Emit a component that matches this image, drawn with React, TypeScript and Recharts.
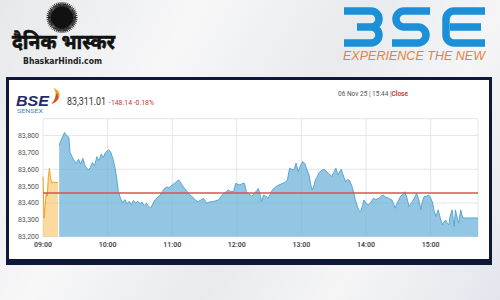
import React from 'react';
import { ComposedChart, Area, Line, XAxis, YAxis, CartesianGrid } from 'recharts';

// minutes after 09:00
const PREV_CLOSE = 83459.15;

const preOpenTimes = [0, 1, 3, 4, 5, 6, 7, 8, 10, 12, 14];
const preOpenValues = [83556, 83310, 83460, 83440, 83560, 83605, 83550, 83520, 83525, 83522, 83520];

const sessionTimes = [
  15, 16, 18, 20, 22, 24, 25, 27, 29, 31,
  33, 35, 37, 39, 42, 44, 46, 48, 50, 52,
  54, 56, 58, 61, 63, 65, 67, 69, 70, 72,
  74, 76, 78, 80, 82, 84, 86, 88, 90, 92,
  94, 96, 98, 100, 102, 104, 106, 109, 111, 113,
  115, 117, 120, 122, 124, 126, 128, 129, 131, 134,
  136, 138, 140, 142, 144, 146, 149, 151, 152, 154,
  157, 160, 163, 165, 168, 170, 172, 174, 177, 179,
  181, 183, 185, 187, 189, 191, 194, 196, 199, 200,
  202, 203, 205, 207, 209, 211, 213, 215, 217, 219,
  221, 223, 225, 227, 229, 231, 233, 235, 237, 239,
  241, 243, 245, 247, 249, 250, 252, 253, 255, 256,
  258, 261, 263, 265, 267, 268, 270, 272, 274, 276,
  277, 279, 281, 283, 285, 287, 289, 290, 292, 293,
  295, 297, 298, 300, 302, 304, 307, 309, 312, 314,
  316, 318, 321, 323, 324, 326, 327, 329, 332, 334,
  336, 338, 340, 341, 343, 345, 347, 349, 351, 352,
  354, 356, 358, 360, 362, 363, 365, 366, 367, 369,
  371, 372, 374, 375, 377, 378, 380, 381, 382, 383,
  384, 386, 387, 388, 389, 390, 404,
];

const sessionValues = [
  83740, 83760, 83790, 83818, 83800, 83790, 83700, 83675, 83650, 83636,
  83660, 83630, 83665, 83620, 83596, 83610, 83640, 83620, 83675, 83650,
  83690, 83670, 83700, 83715, 83700, 83660, 83606, 83520, 83467, 83428,
  83400, 83420, 83395, 83410, 83390, 83415, 83400, 83410, 83395, 83405,
  83385, 83398, 83380, 83370, 83395, 83418, 83430, 83448, 83470, 83487,
  83495, 83490, 83507, 83515, 83527, 83537, 83520, 83507, 83490, 83467,
  83450, 83440, 83428, 83415, 83408, 83415, 83428, 83410, 83398, 83405,
  83408, 83412, 83418, 83435, 83457, 83465, 83477, 83470, 83467, 83517,
  83510, 83507, 83515, 83517, 83467, 83455, 83440, 83455, 83477, 83487,
  83440, 83408, 83448, 83440, 83428, 83450, 83477, 83490, 83500, 83507,
  83512, 83517, 83525, 83537, 83606, 83600, 83596, 83636, 83586, 83620,
  83646, 83636, 83600, 83567, 83500, 83477, 83510, 83537, 83560, 83576,
  83590, 83600, 83590, 83576, 83565, 83557, 83580, 83606, 83567, 83590,
  83600, 83560, 83527, 83540, 83530, 83497, 83450, 83420, 83380, 83359,
  83349, 83390, 83418, 83400, 83388, 83400, 83428, 83420, 83428, 83440,
  83448, 83435, 83428, 83420, 83418, 83390, 83369, 83400, 83438, 83450,
  83467, 83430, 83378, 83390, 83408, 83430, 83457, 83420, 83359, 83400,
  83438, 83440, 83448, 83430, 83398, 83360, 83319, 83340, 83359, 83310,
  83270, 83285, 83299, 83285, 83270, 83320, 83359, 83300, 83260, 83359,
  83330, 83280, 83320, 83359, 83330, 83311, 83311,
];

const hourTicks = [0, 60, 120, 180, 240, 300, 360];
const priceTicks = [83200, 83300, 83400, 83500, 83600, 83700, 83800, 83900];

const allTimes = Array.from(new Set([...preOpenTimes, ...sessionTimes])).sort((a, b) => a - b);
const rows = allTimes.map((t) => {
  const pi = preOpenTimes.indexOf(t);
  const si = sessionTimes.indexOf(t);
  return {
    t,
    pre: pi >= 0 ? preOpenValues[pi] : null,
    val: si >= 0 ? sessionValues[si] : null,
    close: PREV_CLOSE,
  };
});

const fmtTime = (t: number) =>
  `${String(9 + Math.floor(t / 60)).padStart(2, '0')}:${String(t % 60).padStart(2, '0')}`;
const fmtPrice = (v: number) => (v === 83900 ? '' : v.toLocaleString('en-US'));

const rays = Array.from({ length: 96 }, (_, i) => (i / 96) * Math.PI * 2);

export default function App() {
  return (
    <div
      style={{
        position: 'absolute',
        left: 0,
        top: 0,
        width: 500,
        height: 300,
        overflow: 'hidden',
        background: 'linear-gradient(120deg, #e6e8eb 0%, #f7f7f8 30%, #e8eaed 55%, #f5f5f6 75%, #e2e6ec 100%)',
        fontFamily: 'Roboto, sans-serif',
      }}
    >
      <div
        style={{
          position: 'absolute',
          left: 6,
          top: 77,
          width: 486,
          height: 188,
          boxSizing: 'border-box',
          border: '3px solid #0e1838',
          borderBottomWidth: 6,
          background: '#ffffff',
        }}
      />
      <div style={{ position: 'absolute', left: 0, top: 0 }}>
        <ComposedChart
          width={500}
          height={300}
          data={rows}
          margin={{ top: 118.7, right: 22, bottom: 43.3, left: 8 }}
        >
          <CartesianGrid stroke="#e6e6e6" strokeWidth={1} />
          <XAxis
            dataKey="t"
            type="number"
            domain={[0, 404]}
            ticks={hourTicks}
            tickFormatter={fmtTime}
            axisLine={false}
            tickLine={false}
            tickSize={0}
            tickMargin={5}
            height={20}
            tick={{ fontSize: 7, fill: '#444', fontWeight: 600 }}
          />
          <YAxis
            type="number"
            domain={[83200, 83900]}
            ticks={priceTicks}
            tickFormatter={fmtPrice}
            axisLine={false}
            tickLine={false}
            tickSize={0}
            tickMargin={4}
            width={35}
            tick={{ fontSize: 7, fill: '#555' }}
          />
          <Line
            dataKey="close"
            stroke="#d9534f"
            strokeWidth={1.3}
            dot={false}
            isAnimationActive={false}
          />
          <Area
            dataKey="pre"
            stroke="#f0a020"
            strokeWidth={1}
            fill="#f9b53f"
            fillOpacity={0.5}
            dot={false}
            isAnimationActive={false}
          />
          <Area
            dataKey="val"
            stroke="#5aa6d0"
            strokeWidth={1}
            fill="#6fb3d9"
            fillOpacity={0.75}
            dot={false}
            isAnimationActive={false}
          />
        </ComposedChart>
      </div>
      <svg width={500} height={300} style={{ position: 'absolute', left: 0, top: 0, pointerEvents: 'none' }}>
        {/* Dainik Bhaskar logo */}
        {rays.map((a, i) => (
          <line
            key={i}
            x1={62 + Math.cos(a) * 9}
            y1={17.5 + Math.sin(a) * 9}
            x2={62 + Math.cos(a) * (i % 2 ? 14 : 15.5)}
            y2={17.5 + Math.sin(a) * (i % 2 ? 14 : 15.5)}
            stroke="#111"
            strokeWidth={0.9}
          />
        ))}
        <circle cx={62} cy={17.5} r={11} fill="#111" />
        <text
          x={12}
          y={49}
          fontSize={20}
          fontWeight={700}
          fill="#111"
          stroke="#111"
          strokeWidth={0.6}
          textLength={103}
          lengthAdjust="spacingAndGlyphs"
          fontFamily="'Noto Sans Devanagari', 'Lohit Devanagari', 'Noto Sans', sans-serif"
        >
          दैनिक भास्कर
        </text>
        <text
          x={23}
          y={63.5}
          fontSize={8.5}
          fontWeight={700}
          fill="#222"
          textLength={79}
          lengthAdjust="spacingAndGlyphs"
          fontFamily="'DejaVu Sans Condensed', 'Roboto', sans-serif"
        >
          BhaskarHindi.com
        </text>

        {/* BSE logo */}
        <g fill="none" stroke="#1b8fd8" strokeWidth={7.5}>
          <path d="M344 11 H371 A8 8 0 0 1 371 27 H357 M371 27 A8 8 0 0 1 371 43 H344" />
          <path d="M430 11 H404 A8 8 0 0 0 404 27 H418 A8 8 0 0 1 418 43 H392" />
          <path d="M485 11 H454 A8 8 0 0 0 446 19 V35 A8 8 0 0 0 454 43 H485 M450 27 H481" />
        </g>
        <text
          x={343}
          y={59.5}
          fontSize={12}
          fontStyle="italic"
          fill="#e5823f"
          textLength={142}
          lengthAdjust="spacingAndGlyphs"
          fontFamily="'Liberation Sans', Arial, sans-serif"
        >
          EXPERIENCE THE NEW
        </text>

        {/* chart header */}
        <text x={16} y={105.5} fontSize={14} fontWeight={700} fontStyle="italic" fill="#1f2d6b" fontFamily="'Liberation Sans', Arial, sans-serif" textLength={33} lengthAdjust="spacingAndGlyphs">
          BSE
        </text>
        <path d="M54 88 C62 92 62 100 51 104 C56 99 57 94 54 88 Z" fill="#f39c12" />
        <path d="M56 93 C60 96 59 101 52 104 C55 100 56 97 56 93 Z" fill="#e0452b" />
        <text x={17} y={113} fontSize={6} fill="#3e87b9" textLength={26} lengthAdjust="spacingAndGlyphs">
          SENSEX
        </text>
        <text x={67} y={105} fontSize={10} fill="#333" textLength={39} lengthAdjust="spacingAndGlyphs">
          83,311.01
        </text>
        <text x={109} y={104.5} fontSize={7} fill="#cc3333" textLength={45} lengthAdjust="spacingAndGlyphs">
          -148.14 -0.18%
        </text>
        <text x={338} y={95.5} fontSize={6.5} fill="#555">
          06 Nov 25 | 15:44 |<tspan fill="#c0392b" fontWeight={600}>Close</tspan>
        </text>
      </svg>
    </div>
  );
}
